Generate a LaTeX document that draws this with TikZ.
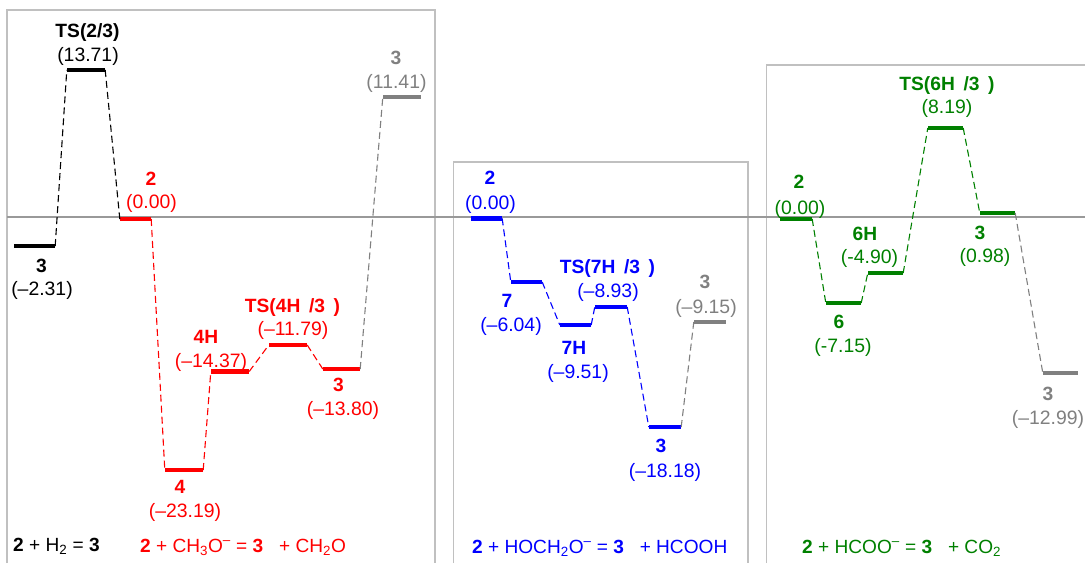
\documentclass[tikz,border=0pt]{standalone}
\usepackage{fontspec}
\setmainfont{Liberation Sans}
\definecolor{gk}{HTML}{808080}
\definecolor{gn}{HTML}{008000}
\definecolor{fr}{HTML}{C0C0C0}
\definecolor{zl}{HTML}{999999}
\newcommand{\LV}[5]{\node[lev,fill=#2,minimum width=#4pt-#3pt] (#1) at ({(#3+#4)/2},#5) {};}
\newcommand{\TSgap}{\hspace{0.45em}}
\tikzset{
  lev/.style={rectangle,inner sep=0pt,minimum height=4.4pt,draw=none},
  val/.style={anchor=base,inner sep=0pt,font=\fontsize{19.4}{23}\selectfont},
  nam/.style={anchor=base,inner sep=0pt,font=\fontsize{19.2}{23}\selectfont\bfseries},
  eqn/.style={anchor=base west,inner sep=0pt,font=\fontsize{19.1}{23}\selectfont},
  con/.style={line width=1.1pt,dash pattern=on 7pt off 4pt},
  frm/.style={draw=fr,line width=1.3pt},
}
\begin{document}
\begin{tikzpicture}[x=1pt,y=-1pt]
\useasboundingbox (0,0) rectangle (1085,563);
% frames
\coordinate (fa1) at (7,563); \coordinate (fa2) at (7,10); \coordinate (fa3) at (435,10); \coordinate (fa4) at (435,563);
\coordinate (fb1) at (453.5,563); \coordinate (fb2) at (453.5,162); \coordinate (fb3) at (748,162); \coordinate (fb4) at (748,563);
\coordinate (fc1) at (766.5,563); \coordinate (fc2) at (766.5,65); \coordinate (fc3) at (1085,65);
\draw[frm] (fa1) -- (fa2) -- (fa3) -- (fa4);
\draw[frm] (fb1) -- (fb2) -- (fb3) -- (fb4);
\draw[frm] (fc1) -- (fc2) -- (fc3);
% zero line
\coordinate (za) at (7,217); \coordinate (zb) at (1085,217);
\draw[zl,line width=1.3pt] (za) -- (zb);
% levels
\LV{k3}{black}{14}{55}{246}
\LV{kT}{black}{67}{105}{70}
\LV{r2}{red}{120}{151}{219}
\LV{r4}{red}{165}{203}{470}
\LV{r4H}{red}{211}{249}{371.5}
\LV{rT}{red}{269}{307}{345}
\LV{r3}{red}{323}{360}{369}
\LV{rg}{gk}{383}{421}{97}
\LV{b2}{blue}{471}{502}{218.5}
\LV{b7}{blue}{511}{542}{282}
\LV{b7H}{blue}{560}{591}{325}
\LV{bT}{blue}{595}{627}{307}
\LV{b3}{blue}{649}{681}{427}
\LV{bg}{gk}{694}{726}{322}
\LV{g2}{gn}{780}{812}{219}
\LV{g6}{gn}{826}{861}{303}
\LV{g6H}{gn}{868}{903}{273}
\LV{gT}{gn}{928}{963}{128}
\LV{g3}{gn}{980}{1015}{213}
\LV{gg}{gk}{1043}{1078}{373}
% connectors
\draw[con,black] (k3.east) -- (kT.west);
\draw[con,black] (kT.east) -- (r2.west);
\draw[con,red] (r2.east) -- (r4.west);
\draw[con,red] (r4.east) -- (r4H.west);
\draw[con,red] (r4H.east) -- (rT.west);
\draw[con,red] (rT.east) -- (r3.west);
\draw[con,gk] (r3.east) -- (rg.west);
\draw[con,blue] (b2.east) -- (b7.west);
\draw[con,blue] (b7.east) -- (b7H.west);
\draw[con,blue] (b7H.east) -- (bT.west);
\draw[con,blue] (bT.east) -- (b3.west);
\draw[con,gk] (b3.east) -- (bg.west);
\draw[con,gn] (g2.east) -- (g6.west);
\draw[con,gn] (g6.east) -- (g6H.west);
\draw[con,gn] (g6H.east) -- (gT.west);
\draw[con,gn] (gT.east) -- (g3.west);
\draw[con,gk] (g3.east) -- (gg.west);
% black labels
\node[nam,black] (tkT) at (87.5,37) {TS(2/3)};
\node[val,black] (vkT) at (88,61) {(13.71)};
\node[nam,black] (tk3) at (41.5,272) {3};
\node[val,black] (vk3) at (42,295.5) {(–2.31)};
% red labels
\node[nam,red] (tr2) at (151,185) {2};
\node[val,red] (vr2) at (151.5,208) {(0.00)};
\node[nam,red] (tr4H) at (206,343) {4H};
\node[val,red] (vr4H) at (211,367) {(–14.37)};
\node[nam,red] (trT) at (292.5,312) {TS(4H\TSgap/3\TSgap)};
\node[val,red] (vrT) at (293,335) {(–11.79)};
\node[nam,red] (tr3) at (338.5,391) {3};
\node[val,red] (vr3) at (343,415) {(–13.80)};
\node[nam,red] (tr4) at (180,493) {4};
\node[val,red] (vr4) at (185,517) {(–23.19)};
\node[nam,gk] (trg) at (396,64) {3};
\node[val,gk] (vrg) at (396.5,88) {(11.41)};
% blue labels
\node[nam,blue] (tb2) at (490,184) {2};
\node[val,blue] (vb2) at (490.5,209) {(0.00)};
\node[nam,blue] (tb7) at (507,307) {7};
\node[val,blue] (vb7) at (511,331) {(–6.04)};
\node[nam,blue] (tb7H) at (574,354) {7H};
\node[val,blue] (vb7H) at (578,378) {(–9.51)};
\node[nam,blue] (tbT) at (607.5,273) {TS(7H\TSgap/3\TSgap)};
\node[val,blue] (vbT) at (608,297) {(–8.93)};
\node[nam,blue] (tb3) at (661,452) {3};
\node[val,blue] (vb3) at (665,477) {(–18.18)};
\node[nam,gk] (tbg) at (705,288) {3};
\node[val,gk] (vbg) at (706,313) {(–9.15)};
% green labels
\node[nam,gn] (tg2) at (799,188) {2};
\node[val,gn] (vg2) at (800,214) {(0.00)};
\node[nam,gn] (tg6H) at (865,240) {6H};
\node[val,gn] (vg6H) at (869.5,263) {(-4.90)};
\node[nam,gn] (tgT) at (947,90) {TS(6H\TSgap/3\TSgap)};
\node[val,gn] (vgT) at (947,113) {(8.19)};
\node[nam,gn] (tg3) at (980,239) {3};
\node[val,gn] (vg3) at (985,262) {(0.98)};
\node[nam,gn] (tg6) at (839,328) {6};
\node[val,gn] (vg6) at (843,352) {(-7.15)};
\node[nam,gk] (tgg) at (1048,400) {3};
\node[val,gk] (vgg) at (1048,424) {(–12.99)};
% equations
\node[eqn,black] (e1) at (13,551) {\textbf{2} + H\textsubscript{2} = \textbf{3}};
\node[eqn,red] (e2) at (140,552) {\textbf{2} + CH\textsubscript{3}O\textsuperscript{–} = \textbf{3}\hspace{0.55em} + CH\textsubscript{2}O};
\node[eqn,blue] (e3) at (472,553) {\textbf{2} + HOCH\textsubscript{2}O\textsuperscript{–} = \textbf{3}\hspace{0.55em} + HCOOH};
\node[eqn,gn] (e4) at (802,553) {\textbf{2} + HCOO\textsuperscript{–} = \textbf{3}\hspace{0.55em} + CO\textsubscript{2}};
\end{tikzpicture}
\end{document}
